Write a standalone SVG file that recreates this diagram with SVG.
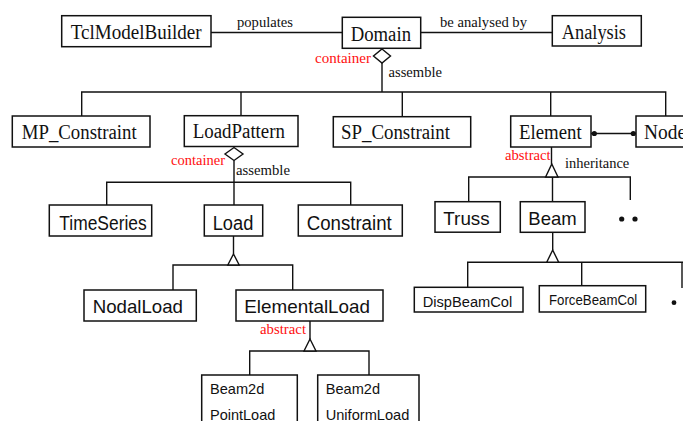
<svg xmlns="http://www.w3.org/2000/svg" width="683" height="421" viewBox="0 0 683 421">
  <style>
    .box { fill: #fff; stroke: #111; stroke-width: 1.5; }
    .ln { fill: none; stroke: #111; stroke-width: 1.4; }
    .open { fill: #fff; stroke: #111; stroke-width: 1.4; }
    .dot { fill: #111; }
    .serif { font-family: "Liberation Serif", "Times New Roman", serif; fill: #111; }
    .sans { font-family: "Liberation Sans", Arial, sans-serif; fill: #111; }
    .big { font-size: 20px; }
    .mid { font-size: 19px; }
    .sm { font-size: 15px; }
    .xs { font-size: 14px; }
    .red { fill: #ff1010; }
  </style>

  <!-- connectors -->
  <g id="connectors">
    <!-- top-level associations -->
    <line class="ln" x1="211" y1="32.5" x2="342" y2="32.5"/>
    <line class="ln" x1="421" y1="32.5" x2="552" y2="32.5"/>
    <text class="serif sm" x="237" y="27" textLength="56" lengthAdjust="spacingAndGlyphs">populates</text>
    <text class="serif sm" x="440" y="27" textLength="87" lengthAdjust="spacingAndGlyphs">be analysed by</text>

    <!-- Domain aggregation -->
    <polygon class="open" points="382,49 390.5,56 382,63 373.5,56"/>
    <line class="ln" x1="382" y1="63" x2="382" y2="92"/>
    <text class="serif sm red" x="315" y="63" textLength="56" lengthAdjust="spacingAndGlyphs">container</text>
    <text class="serif sm" x="388.5" y="77" textLength="53.5" lengthAdjust="spacingAndGlyphs">assemble</text>
    <polyline class="ln" points="81.7,116 81.7,92 665.7,92 665.7,116"/>
    <line class="ln" x1="241" y1="92" x2="241" y2="115.7"/>
    <line class="ln" x1="402.3" y1="92" x2="402.3" y2="116.7"/>
    <line class="ln" x1="550.7" y1="92" x2="550.7" y2="116"/>

    <!-- Element - Node link -->
    <line class="ln" x1="591" y1="133.5" x2="636" y2="133.5"/>
    <circle class="dot" cx="594.3" cy="133.5" r="2.6"/>
    <circle class="dot" cx="633.3" cy="133.5" r="2.6"/>

    <!-- LoadPattern aggregation -->
    <polygon class="open" points="234,147.5 243,154 234,160.5 225,154"/>
    <line class="ln" x1="234" y1="160.5" x2="234" y2="205"/>
    <text class="serif sm red" x="171" y="164.5" textLength="54" lengthAdjust="spacingAndGlyphs">container</text>
    <text class="serif sm" x="236" y="175" textLength="54" lengthAdjust="spacingAndGlyphs">assemble</text>
    <polyline class="ln" points="106.7,205 106.7,182.3 350.7,182.3 350.7,205"/>

    <!-- Load inheritance -->
    <line class="ln" x1="233.5" y1="236" x2="233.5" y2="254"/>
    <polyline class="ln" points="173,290 173,265 292.7,265 292.7,290"/>
    <polygon class="open" points="233.5,254 239.2,265 227.8,265"/>

    <!-- ElementalLoad inheritance -->
    <line class="ln" x1="310" y1="321" x2="310" y2="339"/>
    <polyline class="ln" points="249.7,375 249.7,351 369,351 369,375"/>
    <polygon class="open" points="310,339 316,351 304,351"/>
    <text class="serif sm red" x="260" y="334" textLength="46" lengthAdjust="spacingAndGlyphs">abstract</text>

    <!-- Element inheritance -->
    <line class="ln" x1="551.5" y1="147" x2="551.5" y2="164"/>
    <polyline class="ln" points="468.7,201.7 468.7,177 630.3,177 630.3,200"/>
    <line class="ln" x1="552.5" y1="177" x2="552.5" y2="201.7"/>
    <polygon class="open" points="551.8,164 558,177 545.6,177"/>
    <text class="serif sm red" x="505" y="159.5" textLength="45.7" lengthAdjust="spacingAndGlyphs">abstract</text>
    <text class="serif sm" x="565" y="168" textLength="64.3" lengthAdjust="spacingAndGlyphs">inheritance</text>
    <circle class="dot" cx="621.7" cy="219" r="2.6"/>
    <circle class="dot" cx="635" cy="219" r="2.6"/>

    <!-- Beam inheritance -->
    <line class="ln" x1="552.7" y1="232.3" x2="552.7" y2="250"/>
    <polyline class="ln" points="467.7,287.3 467.7,262.3 690,262.3"/>
    <line class="ln" x1="581.7" y1="262.3" x2="581.7" y2="285.7"/>
    <line class="ln" x1="682" y1="262.3" x2="682" y2="288"/>
    <polygon class="open" points="552.7,250 558.7,262.3 546.7,262.3"/>
    <circle class="dot" cx="674" cy="302.7" r="2.4"/>
  </g>

  <!-- nodes -->
  <g id="TclModelBuilder">
    <rect class="box" x="61.7" y="15.7" width="149.3" height="31"/>
    <text class="serif big" x="70.7" y="39.3" textLength="131" lengthAdjust="spacingAndGlyphs">TclModelBuilder</text>
  </g>
  <g id="Domain">
    <rect class="box" x="342.3" y="17.3" width="78.4" height="31"/>
    <text class="serif big" x="350.7" y="40.7" textLength="60.3" lengthAdjust="spacingAndGlyphs">Domain</text>
  </g>
  <g id="Analysis">
    <rect class="box" x="552.3" y="15.7" width="89" height="30.3"/>
    <text class="serif big" x="561.7" y="38.5" textLength="64.3" lengthAdjust="spacingAndGlyphs">Analysis</text>
  </g>
  <g id="MP_Constraint">
    <rect class="box" x="12.3" y="116" width="137.7" height="31"/>
    <text class="serif big" x="21.7" y="138.5" textLength="115" lengthAdjust="spacingAndGlyphs">MP_Constraint</text>
  </g>
  <g id="LoadPattern">
    <rect class="box" x="184.3" y="115.7" width="113.7" height="30.8"/>
    <text class="serif big" x="192.7" y="138" textLength="92.3" lengthAdjust="spacingAndGlyphs">LoadPattern</text>
  </g>
  <g id="SP_Constraint">
    <rect class="box" x="333.3" y="116.7" width="137.4" height="30.3"/>
    <text class="serif big" x="341" y="138.5" textLength="109" lengthAdjust="spacingAndGlyphs">SP_Constraint</text>
  </g>
  <g id="Element">
    <rect class="box" x="510.7" y="116" width="80.3" height="31"/>
    <text class="serif big" x="519" y="138.5" textLength="62.7" lengthAdjust="spacingAndGlyphs">Element</text>
  </g>
  <g id="Node">
    <rect class="box" x="636" y="116" width="70" height="31"/>
    <text class="serif big" x="644" y="138.5" textLength="42" lengthAdjust="spacingAndGlyphs">Node</text>
  </g>
  <g id="TimeSeries">
    <rect class="box" x="49.3" y="205" width="102.4" height="31"/>
    <text class="sans big" x="59.3" y="229.8" textLength="87.4" lengthAdjust="spacingAndGlyphs">TimeSeries</text>
  </g>
  <g id="Load">
    <rect class="box" x="204.3" y="205" width="58.4" height="31"/>
    <text class="sans big" x="212.7" y="229.8" textLength="40.6" lengthAdjust="spacingAndGlyphs">Load</text>
  </g>
  <g id="Constraint">
    <rect class="box" x="298.3" y="205" width="104" height="31"/>
    <text class="sans big" x="306.7" y="229.8" textLength="85" lengthAdjust="spacingAndGlyphs">Constraint</text>
  </g>
  <g id="Truss">
    <rect class="box" x="435" y="201.7" width="65.3" height="30.5"/>
    <text class="sans mid" x="443.3" y="224.5" textLength="46.4" lengthAdjust="spacingAndGlyphs">Truss</text>
  </g>
  <g id="Beam">
    <rect class="box" x="520.3" y="201.7" width="64.7" height="30.6"/>
    <text class="sans mid" x="528.3" y="224.5" textLength="48.4" lengthAdjust="spacingAndGlyphs">Beam</text>
  </g>
  <g id="NodalLoad">
    <rect class="box" x="84" y="290" width="112.3" height="31"/>
    <text class="sans mid" x="92.7" y="312.7" textLength="90.3" lengthAdjust="spacingAndGlyphs">NodalLoad</text>
  </g>
  <g id="ElementalLoad">
    <rect class="box" x="236" y="290" width="147" height="31"/>
    <text class="sans mid" x="244.3" y="312.7" textLength="125.7" lengthAdjust="spacingAndGlyphs">ElementalLoad</text>
  </g>
  <g id="DispBeamCol">
    <rect class="box" x="414.3" y="287.3" width="108.7" height="24.7"/>
    <text class="sans xs" x="422.7" y="306.5" textLength="89.6" lengthAdjust="spacingAndGlyphs">DispBeamCol</text>
  </g>
  <g id="ForceBeamCol">
    <rect class="box" x="539.3" y="285.7" width="106.4" height="26.3"/>
    <text class="sans xs" x="549" y="305" textLength="88.3" lengthAdjust="spacingAndGlyphs">ForceBeamCol</text>
  </g>
  <g id="Beam2dPointLoad">
    <rect class="box" x="201.7" y="375" width="95.6" height="60"/>
    <text class="sans sm" x="210" y="394" textLength="54.3" lengthAdjust="spacingAndGlyphs">Beam2d</text>
    <text class="sans sm" x="210" y="420" textLength="65.3" lengthAdjust="spacingAndGlyphs">PointLoad</text>
  </g>
  <g id="Beam2dUniformLoad">
    <rect class="box" x="317.7" y="375" width="101.3" height="60"/>
    <text class="sans sm" x="325.7" y="394" textLength="54.3" lengthAdjust="spacingAndGlyphs">Beam2d</text>
    <text class="sans sm" x="325.7" y="420" textLength="83.6" lengthAdjust="spacingAndGlyphs">UniformLoad</text>
  </g>
</svg>
